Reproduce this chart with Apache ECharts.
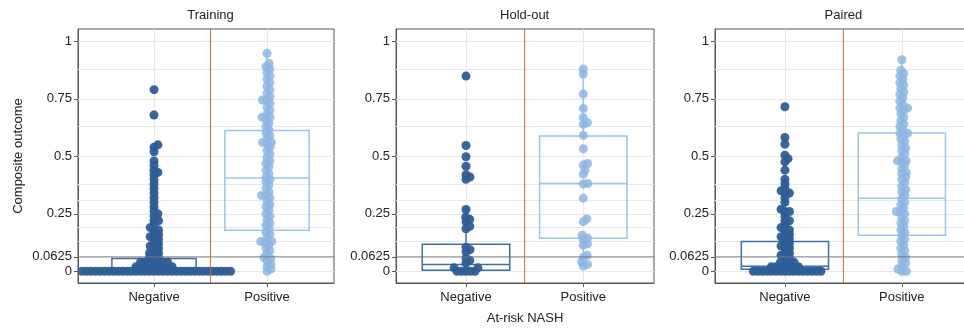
<!DOCTYPE html>
<html>
<head>
<meta charset="utf-8">
<script src="https://cdn.jsdelivr.net/npm/echarts@6/dist/echarts.min.js"></script>
<style>
  html, body { margin: 0; padding: 0; background: #fff; }
  #chart { width: 964px; height: 331px; }
</style>
</head>
<body>
<div id="chart"></div>
<script>
// categories and axis ticks
const panelNames = ['Training', 'Hold-out', 'Paired'];
const categories = ['Negative', 'Positive'];
const yTickValues = [0, 0.0625, 0.25, 0.5, 0.75, 1];
const gridValues = [0, 0.125, 0.1875, 0.25, 0.3125, 0.375, 0.5, 0.625, 0.75, 0.875, 1];
const cutoff = 0.0625;
const divider = 1.5;

// box stats: [low whisker, q1, median, q3, high whisker]
const trainNegBox = [0, 0.013, 0.013, 0.056, 0.13];
const trainPosBox = [0, 0.178, 0.406, 0.612, 0.948];
const holdNegBox = [0, 0.005, 0.03, 0.118, 0.269];
const holdPosBox = [0.023, 0.144, 0.382, 0.589, 0.88];
const pairNegBox = [0, 0.009, 0.022, 0.129, 0.3];
const pairPosBox = [0, 0.157, 0.318, 0.602, 0.92];

// individual cases (value, and how many cases share it)
const trainNegValues = [0, 0.02, 0.04, 0.06, 0.08, 0.1, 0.11, 0.12, 0.14, 0.15, 0.16, 0.18, 0.19, 0.2, 0.22, 0.24, 0.25, 0.26, 0.28, 0.3, 0.32, 0.34, 0.36, 0.38, 0.4, 0.42, 0.43, 0.44, 0.46, 0.48, 0.52, 0.54, 0.55, 0.68, 0.79];
const trainNegCounts = [34, 9, 7, 3, 3, 2, 1, 2, 2, 1, 2, 2, 1, 1, 2, 1, 1, 1, 1, 1, 1, 1, 1, 1, 1, 1, 1, 1, 1, 1, 1, 1, 1, 1, 1];
const trainPosValues = [0, 0.01, 0.02, 0.03, 0.045, 0.055, 0.06, 0.075, 0.09, 0.1, 0.115, 0.125, 0.13, 0.13, 0.145, 0.16, 0.17, 0.185, 0.2, 0.21, 0.225, 0.24, 0.25, 0.265, 0.28, 0.29, 0.305, 0.32, 0.33, 0.33, 0.345, 0.36, 0.375, 0.39, 0.4, 0.41, 0.425, 0.44, 0.455, 0.47, 0.48, 0.495, 0.51, 0.525, 0.54, 0.555, 0.56, 0.56, 0.575, 0.59, 0.6, 0.615, 0.63, 0.645, 0.66, 0.67, 0.67, 0.685, 0.7, 0.715, 0.73, 0.745, 0.745, 0.76, 0.775, 0.79, 0.805, 0.82, 0.835, 0.85, 0.865, 0.88, 0.89, 0.905, 0.948];

const holdNegValues = [0, 0.015, 0.036, 0.047, 0.058, 0.085, 0.094, 0.105, 0.185, 0.196, 0.215, 0.226, 0.235, 0.269, 0.4, 0.41, 0.42, 0.457, 0.498, 0.547, 0.849];
const holdNegCounts = [5, 2, 1, 1, 1, 1, 1, 1, 1, 1, 1, 1, 1, 1, 1, 1, 1, 1, 1, 1, 1];
const holdPosValues = [0.023, 0.03, 0.041, 0.06, 0.07, 0.113, 0.12, 0.138, 0.145, 0.157, 0.216, 0.228, 0.318, 0.38, 0.382, 0.422, 0.44, 0.462, 0.469, 0.533, 0.591, 0.639, 0.646, 0.668, 0.708, 0.771, 0.858, 0.88];

const pairNegValues = [0, 0.02, 0.04, 0.06, 0.07, 0.08, 0.1, 0.11, 0.12, 0.14, 0.15, 0.16, 0.18, 0.19, 0.2, 0.22, 0.24, 0.26, 0.27, 0.3, 0.32, 0.34, 0.35, 0.36, 0.38, 0.4, 0.44, 0.476, 0.49, 0.505, 0.553, 0.582, 0.716];
const pairNegCounts = [16, 7, 4, 2, 1, 2, 2, 1, 2, 2, 1, 2, 2, 1, 1, 2, 1, 2, 1, 1, 1, 2, 1, 1, 1, 1, 1, 1, 1, 1, 1, 1, 1];
const pairPosValues = [0, 0, 0.01, 0.025, 0.035, 0.05, 0.06, 0.075, 0.09, 0.1, 0.115, 0.13, 0.14, 0.155, 0.17, 0.18, 0.195, 0.21, 0.22, 0.235, 0.25, 0.26, 0.26, 0.275, 0.29, 0.3, 0.315, 0.33, 0.345, 0.355, 0.37, 0.385, 0.4, 0.41, 0.425, 0.43, 0.445, 0.46, 0.475, 0.48, 0.48, 0.495, 0.51, 0.525, 0.535, 0.55, 0.565, 0.575, 0.59, 0.6, 0.6, 0.615, 0.63, 0.64, 0.655, 0.67, 0.685, 0.7, 0.71, 0.71, 0.725, 0.74, 0.755, 0.77, 0.78, 0.795, 0.81, 0.82, 0.835, 0.85, 0.86, 0.875, 0.92];

const FONT = 'Liberation Sans, Arial, sans-serif';
const DARK = '#2d5e97';
const LIGHT = '#8cb6e3';
const Y_MIN = -0.051, Y_MAX = 1.054;
const GRID_TOP = 29, GRID_H = 254;
const PX_Y = GRID_H / (Y_MAX - Y_MIN);
const GAP = 4.5;       // beeswarm spacing, px
const BOX_HALF = 0.373;

const panels = [
  { left: 78, width: 256, xMin: 0.327, xMax: 2.593, neg: [trainNegValues, trainNegCounts], pos: trainPosValues, boxes: [trainNegBox, trainPosBox] },
  { left: 396, width: 258, xMin: 0.403, xMax: 2.603, neg: [holdNegValues, holdNegCounts], pos: holdPosValues, boxes: [holdNegBox, holdPosBox] },
  { left: 715, width: 257, xMin: 0.402, xMax: 2.6, neg: [pairNegValues, pairNegCounts], pos: pairPosValues, boxes: [pairNegBox, pairPosBox] }
];

// simple beeswarm: stack points side by side when they overlap vertically
function swarm(values, counts, center, pxX) {
  const ys = [];
  values.forEach((v, i) => {
    const n = counts && counts[i] ? counts[i] : 1;
    for (let k = 0; k < n; k++) ys.push(v);
  });
  ys.sort((a, b) => a - b);
  const placed = [];
  ys.forEach(v => {
    const y = v * PX_Y;
    const cands = [0];
    placed.forEach(p => {
      const dy = Math.abs(p.y - y);
      if (dy < GAP) {
        const dx = Math.sqrt(GAP * GAP - dy * dy);
        cands.push(p.x + dx, p.x - dx);
      }
    });
    cands.sort((a, b) => Math.abs(a) - Math.abs(b) || b - a);
    const x = cands.find(c => placed.every(p => Math.hypot(p.x - c, p.y - y) >= GAP - 1e-6));
    placed.push({ x: x, y: y, v: v });
  });
  return placed.map(p => [center + p.x / pxX, p.v]);
}

function boxItem(params, api) {
  const c = api.value(0);
  const lo = api.value(1), q1 = api.value(2), md = api.value(3), q3 = api.value(4), hi = api.value(5);
  const tl = api.coord([c - BOX_HALF, q3]);
  const br = api.coord([c + BOX_HALF, q1]);
  const mL = api.coord([c - BOX_HALF, md]);
  const mR = api.coord([c + BOX_HALF, md]);
  const top = api.coord([c, hi]), tq = api.coord([c, q3]);
  const bq = api.coord([c, q1]), bot = api.coord([c, lo]);
  const style = { stroke: params.dataIndex === 0 ? '#3d6cb1' : '#9fc4ec', fill: 'none', lineWidth: 1.5 };
  return {
    type: 'group',
    children: [
      { type: 'line', shape: { x1: top[0], y1: top[1], x2: tq[0], y2: tq[1] }, style: style },
      { type: 'line', shape: { x1: bq[0], y1: bq[1], x2: bot[0], y2: bot[1] }, style: style },
      { type: 'rect', shape: { x: tl[0], y: tl[1], width: br[0] - tl[0], height: br[1] - tl[1] }, style: style },
      { type: 'line', shape: { x1: mL[0], y1: mL[1], x2: mR[0], y2: mR[1] }, style: style }
    ]
  };
}

// reference lines: divider between groups (x) and the cutoff (y)
function refItem(params, api) {
  const cs = params.coordSys;
  const px = api.coord([api.value(0), api.value(1)]);
  return {
    type: 'group',
    children: [
      { type: 'line', shape: { x1: cs.x, y1: px[1], x2: cs.x + cs.width, y2: px[1] },
        style: { stroke: '#777', lineWidth: 1 } },
      { type: 'line', shape: { x1: px[0], y1: cs.y, x2: px[0], y2: cs.y + cs.height },
        style: { stroke: '#cd6a35', lineWidth: 1 } }
    ]
  };
}

const grid = [], xAxis = [], yAxis = [], series = [], graphic = [];
panels.forEach((p, i) => {
  const pxX = p.width / (p.xMax - p.xMin);
  grid.push({ left: p.left, top: GRID_TOP, width: p.width, height: GRID_H, show: true,
    borderColor: '#555', borderWidth: 1, backgroundColor: 'transparent', outerBoundsMode: 'none' });
  xAxis.push({
    gridIndex: i, type: 'value', min: p.xMin, max: p.xMax,
    name: i === 1 ? 'At-risk NASH' : '', nameLocation: 'middle', nameGap: 29,
    nameTextStyle: { fontFamily: FONT, fontSize: 13, color: '#222' },
    axisLine: { show: true, onZero: false, lineStyle: { color: '#555' } },
    axisTick: { show: true, length: 4, customValues: [1, 2], lineStyle: { color: '#555' } },
    axisLabel: { customValues: [1, 2], formatter: v => categories[Math.round(v) - 1], margin: 8,
      fontFamily: FONT, fontSize: 13, color: '#222' },
    splitLine: { show: false }
  });
  yAxis.push({
    gridIndex: i, type: 'value', min: Y_MIN, max: Y_MAX,
    name: i === 0 ? 'Composite outcome' : '', nameLocation: 'middle', nameGap: 53,
    nameTextStyle: { fontFamily: FONT, fontSize: 13, color: '#222' },
    axisLine: { show: true, onZero: false, lineStyle: { color: '#555' } },
    axisTick: { show: true, length: 4, customValues: yTickValues, lineStyle: { color: '#555' } },
    axisLabel: { customValues: yTickValues, margin: 6, fontFamily: FONT, fontSize: 13, color: '#222' },
    splitLine: { show: false }
  });
  // boxes + light grid lines
  series.push({
    type: 'custom', xAxisIndex: i, yAxisIndex: i, z: 2, silent: true,
    data: [[1].concat(p.boxes[0]), [2].concat(p.boxes[1])],
    encode: { x: 0, y: [1, 2, 3, 4, 5] },
    renderItem: boxItem,
    markLine: {
      z: 1, silent: true, symbol: 'none', label: { show: false }, animation: false,
      lineStyle: { color: '#e8e8e8', width: 1, type: 'solid' },
      data: gridValues.map(v => ({ yAxis: v })).concat([{ xAxis: 1 }, { xAxis: 2 }])
    }
  });
  series.push({
    type: 'scatter', xAxisIndex: i, yAxisIndex: i, z: 3, silent: true, clip: false,
    symbolSize: 9, itemStyle: { color: DARK, opacity: 0.95 },
    data: swarm(p.neg[0], p.neg[1], 1, pxX)
  });
  series.push({
    type: 'scatter', xAxisIndex: i, yAxisIndex: i, z: 3, silent: true, clip: false,
    symbolSize: 9, itemStyle: { color: LIGHT, opacity: 0.85 },
    data: swarm(p.pos, null, 2, pxX)
  });
  series.push({
    type: 'custom', xAxisIndex: i, yAxisIndex: i, z: 10, silent: true, clip: false,
    data: [[divider, cutoff]],
    renderItem: refItem
  });
  graphic.push({
    type: 'text', x: p.left + (divider - p.xMin) * pxX, y: 15,
    style: { text: panelNames[i], textAlign: 'center', textVerticalAlign: 'middle',
      font: '13px ' + FONT, fill: '#222' }
  });
});

const chart = echarts.init(document.getElementById('chart'));
chart.setOption({
  animation: false,
  grid: grid,
  xAxis: xAxis,
  yAxis: yAxis,
  series: series,
  graphic: graphic
});
</script>
</body>
</html>
